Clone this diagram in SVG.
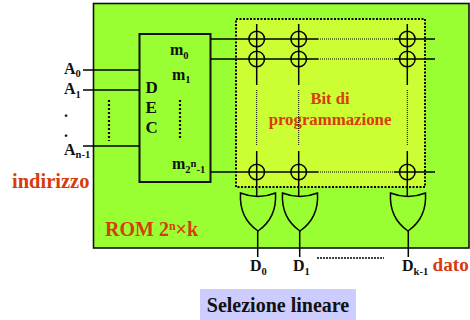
<svg xmlns="http://www.w3.org/2000/svg" width="470" height="320" viewBox="0 0 470 320">
<style>
text{font-family:"Liberation Serif",serif;font-weight:bold;fill:#111}
.r{fill:#d83c0c}
.l{stroke:#000;stroke-width:1.5;fill:none}
.d{stroke:#000;stroke-width:1;fill:none;stroke-dasharray:1 1}
.b{stroke:#000;stroke-width:2;fill:none;stroke-dasharray:2 1.5}
.s{font-size:10.500px}
.t{font-size:16px}
.g{fill:none;stroke:#000;stroke-width:1.5}
</style>
<defs>
<g id="x"><circle r="7.8" class="g"/></g>
<path id="or" class="g" d="M-17.500 0Q0 7 17.500 0Q19 25 0 38Q-19 25 -17.500 0Z"/>
</defs>
<g id="rom"><rect x="93.5" y="3.5" width="375.5" height="244.500" fill="#99ff33" stroke="#111" stroke-width="1.600"/>
<text x="105" y="236" class="r" font-size="20">ROM 2<tspan font-size="12" dy="-6">n</tspan><tspan dy="6">×k</tspan></text></g>
<g id="matrix"><rect x="236" y="19" width="189" height="168" fill="#ccff33"/><rect x="236" y="19" width="189" height="168" class="b"/>
<text x="330" y="104" text-anchor="middle" class="r" font-size="16.500">Bit di</text>
<text x="330" y="125" text-anchor="middle" class="r" font-size="16.800">programmazione</text></g>
<g id="dec"><rect x="139.500" y="34" width="71" height="148" fill="#99ff33" stroke="#111" stroke-width="2"/>
<text x="145.500" y="93" font-size="17">D</text><text x="145.500" y="113" font-size="17">E</text><text x="145.500" y="133" font-size="17">C</text>
<text x="170" y="55" class="t">m<tspan class="s" dy="4">0</tspan></text>
<text x="172" y="80" class="t">m<tspan class="s" dy="3">1</tspan></text>
<text x="172" y="169" class="t">m<tspan class="s" dy="4">2</tspan><tspan class="s" dy="-6">n</tspan><tspan class="s" dy="6">-1</tspan></text></g>
<g id="connectors">
<path class="l" d="M83 70H139M83 90H139M83 146H139M211 39H318M211 59H318M211 172H318M394 39H435M394 59H435M394 172H435M256.700 24V85M298.700 24V85M407.300 24V85M256.700 151V197M298.700 151V197M407.300 151V197M257.700 231V257M299.700 231V257M408.300 231V257"/>
<path class="d" d="M318 39H394M318 59H394M318 172H394M256.700 90V145M298.700 90V145M407.300 90V145"/>
<path d="M109 100V141M180 100V139" stroke="#000" stroke-width="2.200" stroke-dasharray="2 2" fill="none"/>
<path d="M317 258H384" stroke="#000" stroke-width="1.500" stroke-dasharray="2 1" fill="none"/>
<use href="#x" x="256.700" y="39"/><use href="#x" x="298.700" y="39"/><use href="#x" x="407.300" y="39"/>
<use href="#x" x="256.700" y="59"/><use href="#x" x="298.700" y="59"/><use href="#x" x="407.300" y="59"/>
<use href="#x" x="256.700" y="172"/><use href="#x" x="298.700" y="172"/><use href="#x" x="407.300" y="172"/>
</g>
<g id="or0"><use href="#or" x="258" y="193"/></g>
<g id="or1"><use href="#or" x="300" y="193"/></g>
<g id="or2"><use href="#or" x="408" y="193"/></g>
<g id="labels">
<text x="64" y="74" class="t">A<tspan class="s" dy="3">0</tspan></text>
<text x="64" y="94" class="t">A<tspan class="s" dy="4">1</tspan></text>
<text x="64" y="117" class="t">.</text><text x="64" y="137" class="t">.</text>
<text x="64" y="155" class="t">A<tspan class="s" dy="3">n-1</tspan></text>
<text x="12" y="188" class="r" font-size="20.500">indirizzo</text>
<text x="250" y="271" class="t">D<tspan class="s" dy="4">0</tspan></text>
<text x="293" y="271" class="t">D<tspan class="s" dy="4">1</tspan></text>
<text x="402" y="271" class="t">D<tspan class="s" dy="4">k-1</tspan></text>
<text x="432.500" y="271" class="r" font-size="19.200">dato</text>
</g>
<g id="caption"><rect x="200" y="289" width="156" height="31" fill="#ccccff"/>
<text x="278" y="312" text-anchor="middle" font-size="20">Selezione lineare</text></g>
</svg>
